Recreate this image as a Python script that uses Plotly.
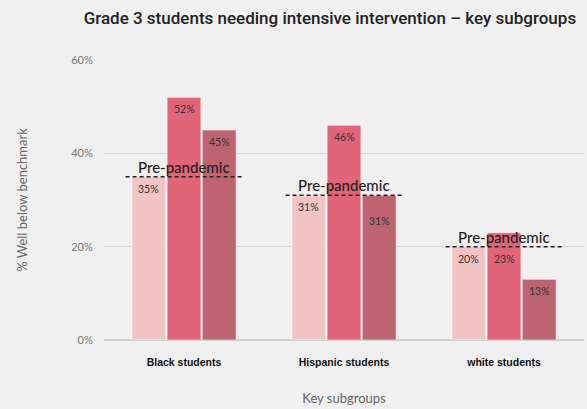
import plotly.graph_objects as go

categories = ["Black students", "Hispanic students", "white students"]
series_names = ["Pre-pandemic", "2020-21", "2021-22"]
pre_pandemic = [35, 31, 20]
year_2021 = [52, 46, 23]
year_2022 = [45, 31, 13]
colors = ["#F3C4C4", "#E16478", "#BE6470"]
y_ticks = [0, 20, 40, 60]
y_tick_labels = ["0%", "20%", "40%", "60%"]

BARGAP = 0.34
series = [pre_pandemic, year_2021, year_2022]
slot = (1 - BARGAP) / len(series)

fig = go.Figure()
for name, vals, col in zip(series_names, series, colors):
    fig.add_trace(go.Bar(
        x=categories, y=vals, name=name,
        marker=dict(color=col, line=dict(color="rgba(255,255,255,0.55)", width=1)),
        hovertemplate="%{x}: %{y}%<extra>" + name + "</extra>",
    ))

# value labels inside the top of each bar
for j, (name, vals) in enumerate(zip(series_names, series)):
    for i, v in enumerate(vals):
        offset = (j - (len(series) - 1) / 2) * slot
        lowered = (j > 0) and (0 <= v - pre_pandemic[i] <= 4)
        fig.add_annotation(x=i + offset, y=v, xref="x", yref="y", text=f"{v}%",
                           showarrow=False, yanchor="top", yshift=-18 if lowered else -4,
                           font=dict(size=10.5, color="#333333", family="Lato"))

half = 0.365
for i, v in enumerate(pre_pandemic):
    fig.add_shape(type="line", xref="x", yref="y", x0=i - half, x1=i + half, y0=v, y1=v,
                  line=dict(color="#222222", width=1.5, dash="4px,3px"))
    fig.add_annotation(x=i, y=v, xref="x", yref="y", text="Pre-pandemic", showarrow=False,
                       yanchor="bottom", yshift=-1,
                       font=dict(size=15, color="#222222", family="Lato", weight=500))

fig.update_layout(
    width=587, height=409,
    paper_bgcolor="#F0F0F0", plot_bgcolor="#F0F0F0",
    margin=dict(l=104, r=3, t=60, b=69),
    barmode="group", bargap=BARGAP, bargroupgap=0.04,
    showlegend=False,
    title=dict(text="Grade 3 students needing intensive intervention \u2013 key subgroups",
               x=0.562, xanchor="center", y=0.955, yanchor="middle",
               font=dict(size=17, color="#222222", family="Roboto", weight=500)),
    font=dict(family="Lato"),
)
fig.update_yaxes(range=[0, 60], tickvals=y_ticks, ticktext=y_tick_labels,
                 gridcolor="#D6D6D6", gridwidth=1, zeroline=True, zerolinecolor="#D0D0D0",
                 zerolinewidth=1.5, tickfont=dict(size=11, color="#777777"),
                 ticks="outside", ticklen=8, tickcolor="rgba(0,0,0,0)",
                 title=dict(text="% Well below benchmark", font=dict(size=13, color="#666666"), standoff=40))
fig.update_xaxes(tickfont=dict(size=10.5, color="#111111", family="Liberation Sans"),
                 ticks="outside", ticklen=12, tickcolor="rgba(0,0,0,0)",
                 title=dict(text="Key subgroups", font=dict(size=13, color="#666666"), standoff=27))
fig.update_xaxes(tickprefix="<b>", ticksuffix="</b>")

fig.write_html("out.html")
